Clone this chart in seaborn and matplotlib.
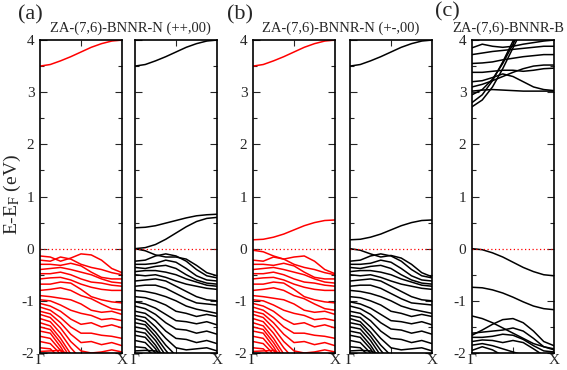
import matplotlib
matplotlib.use('Agg')
import matplotlib.pyplot as plt
from matplotlib.ticker import MultipleLocator
import pandas as pd
import seaborn as sns

# k-points along Gamma -> X (fraction of the path)
KPTS = [0, 0.125, 0.25, 0.375, 0.5, 0.625, 0.75, 0.875, 1.0]

# ---- spin channel shown in red, (a) and (b) ----
RED_TOP_A = [-0.14, -0.16, -0.24, -0.18, -0.10, -0.12, -0.22, -0.38, -0.46]
RED_TOP_B = [-0.03, -0.06, -0.14, -0.20, -0.16, -0.14, -0.24, -0.40, -0.48]
RED_VALENCE = [
    [-0.22, -0.24, -0.16, -0.20, -0.30, -0.36, -0.40, -0.46, -0.50],
    [-0.30, -0.30, -0.32, -0.28, -0.33, -0.45, -0.55, -0.58, -0.58],
    [-0.40, -0.38, -0.36, -0.40, -0.45, -0.50, -0.58, -0.64, -0.66],
    [-0.48, -0.48, -0.45, -0.50, -0.58, -0.64, -0.66, -0.70, -0.72],
    [-0.58, -0.56, -0.55, -0.60, -0.68, -0.74, -0.78, -0.80, -0.80],
    [-0.68, -0.68, -0.64, -0.66, -0.78, -0.92, -0.98, -1.02, -1.04],
    [-0.80, -0.78, -0.75, -0.80, -0.90, -0.96, -1.06, -1.15, -1.18],
    [-0.90, -0.92, -0.95, -0.98, -1.06, -1.18, -1.22, -1.20, -1.26],
    [-0.98, -1.00, -1.08, -1.18, -1.24, -1.28, -1.36, -1.34, -1.38],
    [-1.05, -1.10, -1.20, -1.35, -1.45, -1.42, -1.50, -1.46, -1.52],
    [-1.12, -1.18, -1.32, -1.50, -1.62, -1.62, -1.66, -1.68, -1.72],
    [-1.20, -1.25, -1.42, -1.64, -1.80, -1.78, -1.84, -1.80, -1.86],
    [-1.26, -1.32, -1.52, -1.78, -1.96, -2.00, -1.98, -1.94, -1.98],
    [-1.34, -1.40, -1.62, -1.90, -2.12, -2.20, -2.20, -2.25, -2.25],
    [-1.42, -1.48, -1.72, -2.02, -2.24, -2.35, -2.35, -2.40, -2.40],
    [-1.50, -1.55, -1.80, -2.10, -2.35, -2.45, -2.45, -2.50, -2.50],
    [-1.58, -1.62, -1.88, -2.20, -2.45, -2.55, -2.55, -2.60, -2.60],
    [-1.68, -1.72, -1.95, -2.25, -2.50, -2.60, -2.60, -2.65, -2.65],
    [-1.78, -1.82, -2.02, -2.30, -2.55, -2.65, -2.65, -2.70, -2.70],
    [-1.90, -1.92, -2.10, -2.35, -2.60, -2.70, -2.70, -2.75, -2.75],
    [-1.97, -1.96, -1.95, -2.05, -2.20, -2.40, -2.50, -2.55, -2.60],
]

# ---- spin channel shown in black, (a) and (b) ----
BLACK_TOP_A = [0.00, -0.04, -0.12, -0.16, -0.16, -0.20, -0.32, -0.46, -0.52]
BLACK_TOP_B = [0.00, -0.03, -0.10, -0.16, -0.13, -0.18, -0.30, -0.46, -0.54]
BLACK_VALENCE = [
    [-0.24, -0.22, -0.14, -0.10, -0.14, -0.24, -0.40, -0.52, -0.56],
    [-0.30, -0.30, -0.28, -0.22, -0.26, -0.38, -0.52, -0.60, -0.62],
    [-0.36, -0.38, -0.34, -0.32, -0.38, -0.50, -0.60, -0.66, -0.68],
    [-0.44, -0.42, -0.42, -0.45, -0.50, -0.58, -0.64, -0.70, -0.72],
    [-0.50, -0.52, -0.50, -0.55, -0.62, -0.68, -0.72, -0.76, -0.78],
    [-0.62, -0.60, -0.58, -0.62, -0.72, -0.82, -0.92, -0.98, -1.00],
    [-0.72, -0.70, -0.70, -0.76, -0.86, -0.96, -1.04, -1.06, -1.08],
    [-0.80, -0.82, -0.86, -0.92, -1.00, -1.10, -1.16, -1.20, -1.24],
    [-0.92, -0.94, -1.00, -1.08, -1.20, -1.24, -1.30, -1.26, -1.30],
    [-1.02, -1.06, -1.14, -1.26, -1.38, -1.40, -1.44, -1.40, -1.46],
    [-1.10, -1.15, -1.26, -1.42, -1.54, -1.56, -1.62, -1.58, -1.64],
    [-1.20, -1.24, -1.38, -1.58, -1.72, -1.74, -1.80, -1.76, -1.82],
    [-1.28, -1.32, -1.50, -1.72, -1.90, -1.94, -1.92, -1.90, -1.96],
    [-1.34, -1.40, -1.60, -1.85, -2.05, -2.15, -2.20, -2.25, -2.25],
    [-1.42, -1.46, -1.68, -1.95, -2.18, -2.30, -2.35, -2.40, -2.40],
    [-1.50, -1.54, -1.76, -2.05, -2.30, -2.40, -2.45, -2.50, -2.50],
    [-1.58, -1.62, -1.85, -2.15, -2.40, -2.50, -2.55, -2.60, -2.60],
    [-1.66, -1.70, -1.92, -2.22, -2.48, -2.58, -2.60, -2.65, -2.65],
    [-1.76, -1.80, -2.00, -2.28, -2.55, -2.65, -2.65, -2.70, -2.70],
    [-1.88, -1.90, -2.08, -2.35, -2.60, -2.70, -2.70, -2.75, -2.75],
    [-1.96, -1.95, -1.96, -2.04, -2.18, -2.36, -2.48, -2.55, -2.60],
]

# conduction bands
HIGH_CB = [3.50, 3.53, 3.60, 3.68, 3.77, 3.86, 3.93, 3.98, 4.00]
BLACK_A_CB = [
    [0.40, 0.41, 0.44, 0.49, 0.54, 0.59, 0.63, 0.65, 0.66],
    [0.00, 0.02, 0.08, 0.18, 0.30, 0.42, 0.52, 0.58, 0.60],
]
B_LOW_CB = [0.17, 0.18, 0.22, 0.28, 0.36, 0.44, 0.50, 0.54, 0.55]

# ---- ZA-(7,6)-BNNR-B ----
C_BANDS = [
    # valence
    [0.00, -0.02, -0.08, -0.16, -0.26, -0.36, -0.44, -0.50, -0.52],
    [-0.74, -0.75, -0.79, -0.85, -0.93, -1.02, -1.10, -1.15, -1.17],
    [-1.29, -1.34, -1.42, -1.52, -1.62, -1.72, -1.82, -1.88, -1.92],
    [-1.66, -1.56, -1.45, -1.36, -1.34, -1.42, -1.58, -1.78, -1.86],
    [-1.62, -1.60, -1.58, -1.56, -1.52, -1.58, -1.72, -1.88, -1.94],
    [-1.70, -1.70, -1.68, -1.64, -1.66, -1.74, -1.86, -1.96, -1.98],
    [-1.78, -1.75, -1.76, -1.80, -1.76, -1.80, -1.92, -2.05, -2.10],
    [-1.85, -1.82, -1.86, -1.92, -1.98, -2.04, -2.10, -2.15, -2.20],
    [-1.95, -1.88, -1.94, -2.05, -2.15, -2.20, -2.25, -2.30, -2.30],
    # conduction
    [2.72, 2.85, 3.10, 3.45, 3.85, 4.25, 4.60, 4.90, 5.10],
    [2.80, 2.95, 3.22, 3.58, 3.98, 4.35, 4.70, 5.00, 5.20],
    [2.95, 3.05, 3.25, 3.55, 3.92, 4.30, 4.60, 4.90, 5.10],
    [3.02, 3.04, 3.05, 3.04, 3.03, 3.02, 3.02, 3.02, 3.02],
    [3.20, 3.22, 3.28, 3.35, 3.30, 3.20, 3.10, 3.05, 3.03],
    [3.10, 3.15, 3.22, 3.30, 3.38, 3.45, 3.50, 3.52, 3.52],
    [3.38, 3.38, 3.40, 3.42, 3.42, 3.40, 3.42, 3.45, 3.46],
    [3.55, 3.56, 3.58, 3.62, 3.65, 3.68, 3.70, 3.72, 3.72],
    [3.72, 3.75, 3.78, 3.80, 3.82, 3.84, 3.86, 3.88, 3.88],
    [3.85, 3.92, 3.88, 3.86, 3.88, 3.92, 3.95, 3.98, 4.00],
]

TITLES = ['ZA-(7,6)-BNNR-N (++,00)', 'ZA-(7,6)-BNNR-N (+-,00)', 'ZA-(7,6)-BNNR-B']
PANEL_TAGS = ['(a)', '(b)', '(c)']


def band_frame(bands):
    rows = []
    for i, band in enumerate(bands):
        for k, e in zip(KPTS, band):
            rows.append((i, k, e))
    return pd.DataFrame(rows, columns=['band', 'k', 'E'])


sns.set_style('ticks')
plt.rcParams['font.family'] = ['Liberation Serif', 'DejaVu Serif']
plt.rcParams['mathtext.fontset'] = 'stix'
plt.rcParams['axes.unicode_minus'] = False

W, H = 567, 370
fig = plt.figure(figsize=(W / 100, H / 100), dpi=100)

# panel boxes in pixels: left, right ; shared top/bottom
TOP, BOTTOM = 40, 353
panels = [
    (40, 122, [RED_TOP_A, HIGH_CB] + RED_VALENCE, 'red', True),
    (135, 217, [BLACK_TOP_A, HIGH_CB] + BLACK_A_CB + BLACK_VALENCE, 'black', False),
    (253, 335, [RED_TOP_B, HIGH_CB, B_LOW_CB] + RED_VALENCE, 'red', True),
    (350, 432, [BLACK_TOP_B, HIGH_CB, B_LOW_CB] + BLACK_VALENCE, 'black', False),
    (472, 554, C_BANDS, 'black', True),
]

axes = []
for left, right, bands, color, show_labels in panels:
    ax = fig.add_axes([left / W, 1 - BOTTOM / H, (right - left) / W, (BOTTOM - TOP) / H])
    sns.lineplot(data=band_frame(bands), x='k', y='E', units='band', estimator=None,
                 color=color, lw=1.1, legend=False, ax=ax)
    ax.axhline(0, color='red', ls=(0, (1, 2)), lw=0.9)
    ax.set_xlim(0, 1)
    ax.set_ylim(-2, 4)
    ax.set_xticks([0, 1])
    ax.set_xticklabels(['Γ', 'X'], fontsize=11)
    ax.set_xticks([0.5], minor=True)
    ax.yaxis.set_major_locator(MultipleLocator(1))
    ax.yaxis.set_minor_locator(MultipleLocator(0.5))
    ax.tick_params(axis='x', which='major', length=0, pad=1)
    ax.tick_params(axis='x', which='minor', direction='in', top=True, bottom=True, length=4, width=0.8)
    ax.tick_params(axis='y', which='both', direction='in', left=True, right=True, width=0.8,
                   labelsize=11, pad=4)
    ax.tick_params(axis='y', which='major', length=5)
    ax.tick_params(axis='y', which='minor', length=3)
    if not show_labels:
        ax.set_yticklabels([])
    ax.set_xlabel('')
    ax.set_ylabel('')
    for sp in ax.spines.values():
        sp.set_linewidth(1.2)
        sp.set_color('black')
    axes.append(ax)

# titles and panel tags
title_pos = [(130, 28), (341, 28), (508, 28)]
tag_pos = [(30, 15), (240, 15), (447, 12)]
for title, (tx, ty) in zip(TITLES, title_pos):
    fig.text(tx / W, 1 - ty / H, title, ha='center', va='center', fontsize=10.5)
for tag, (tx, ty) in zip(PANEL_TAGS, tag_pos):
    fig.text(tx / W, 1 - ty / H, tag, ha='center', va='center', fontsize=16)

fig.text(12 / W, 1 - 195 / H, r'E-E$_\mathrm{F}$ (eV)', rotation=90,
         ha='center', va='center', fontsize=14)

fig.savefig('out.png', dpi=100)
